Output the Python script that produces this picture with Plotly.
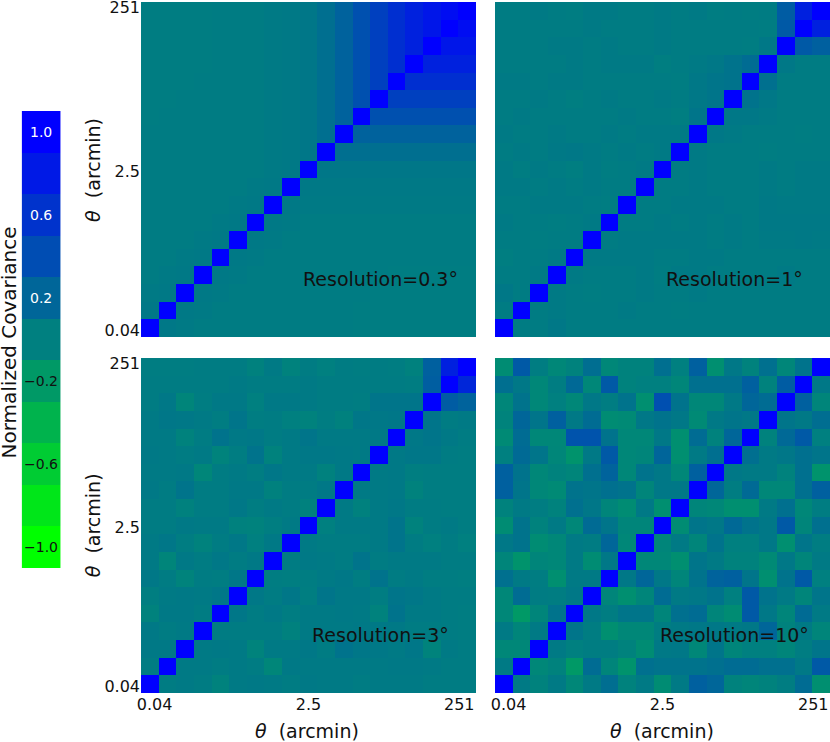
import plotly.graph_objects as go

# labels
resolutions = ["0.3", "1", "3", "10"]
theta_ticks = ["0.04", "2.5", "251"]

# colour bar bands and labels
cbar_levels = [-1.0, -0.8, -0.6, -0.4, -0.2, 0.0, 0.2, 0.4, 0.6, 0.8, 1.0]
cbar_tickvals = [1.0, 0.6, 0.2, -0.2, -0.6, -1.0]
cbar_ticktext = ["1.0", "0.6", "0.2", "\u22120.2", "\u22120.6", "\u22121.0"]

# normalized covariance matrices, row 0 = smallest theta (bottom)
cov_03 = [
    [1.00, .06, .04, .03, .03, .03, .03, .03, .03, .03, .03, .03, .02, .02, .02, .02, .02, .02, .02],
    [.06, 1.00, .05, .04, .03, .03, .03, .03, .03, .03, .03, .03, .02, .02, .02, .02, .02, .02, .02],
    [.04, .05, 1.00, .05, .04, .03, .03, .03, .03, .03, .03, .03, .03, .02, .02, .02, .02, .02, .02],
    [.03, .04, .05, 1.00, .05, .04, .03, .03, .03, .03, .03, .03, .03, .03, .02, .02, .02, .02, .02],
    [.03, .03, .04, .05, 1.00, .05, .04, .03, .03, .03, .03, .03, .03, .03, .03, .03, .03, .03, .03],
    [.03, .03, .03, .04, .05, 1.00, .05, .04, .03, .03, .03, .03, .03, .03, .03, .03, .03, .03, .03],
    [.03, .03, .03, .03, .04, .05, 1.00, .05, .04, .03, .03, .03, .03, .03, .03, .03, .03, .03, .03],
    [.03, .03, .03, .03, .03, .04, .05, 1.00, .05, .04, .04, .04, .04, .04, .04, .04, .04, .04, .04],
    [.03, .03, .03, .03, .03, .03, .04, .05, 1.00, .05, .05, .05, .05, .05, .05, .05, .05, .05, .05],
    [.03, .03, .03, .03, .03, .03, .03, .04, .05, 1.00, .07, .07, .07, .07, .07, .07, .07, .07, .07],
    [.03, .03, .03, .03, .03, .03, .03, .04, .05, .07, 1.00, .13, .13, .13, .13, .13, .13, .13, .13],
    [.03, .03, .03, .03, .03, .03, .03, .04, .05, .07, .13, 1.00, .23, .23, .23, .23, .23, .23, .23],
    [.02, .03, .03, .03, .03, .03, .03, .04, .05, .07, .13, .23, 1.00, .37, .37, .37, .37, .37, .37],
    [.02, .02, .03, .03, .03, .03, .03, .04, .05, .07, .13, .23, .37, 1.00, .50, .50, .50, .50, .50],
    [.02, .02, .02, .03, .03, .03, .03, .04, .05, .07, .13, .23, .37, .50, 1.00, .63, .63, .63, .63],
    [.02, .02, .02, .02, .03, .03, .03, .04, .05, .07, .13, .23, .37, .50, .63, 1.00, .74, .74, .74],
    [.02, .02, .02, .02, .03, .03, .03, .04, .05, .07, .13, .23, .37, .50, .63, .74, 1.00, .83, .83],
    [.02, .02, .02, .02, .03, .03, .03, .04, .05, .07, .13, .23, .37, .50, .63, .74, .83, 1.00, .90],
    [.02, .02, .02, .02, .03, .03, .03, .04, .05, .07, .13, .23, .37, .50, .63, .74, .83, .90, 1.00],
]

cov_1 = [
    [1.00, .03, .03, .06, .03, .03, .03, .03, .03, .03, .03, .03, .03, .03, .03, .03, .03, .03, .03],
    [.03, 1.00, .03, .04, .03, .03, .03, .04, .03, .03, .02, .03, .03, .03, .03, .03, .03, .03, .03],
    [.06, .03, 1.00, .04, .03, .02, .03, .03, .04, .03, .03, .04, .03, .03, .03, .03, .03, .03, .03],
    [.03, .03, .04, 1.00, .04, .03, .03, .03, .04, .02, .04, .04, .03, .03, .03, .03, .04, .03, .03],
    [.01, .03, .03, .04, 1.00, .04, .04, .04, .04, .03, .03, .04, .04, .03, .03, .03, .03, .03, .03],
    [.03, .03, .02, .03, .03, 1.00, .03, .04, .04, .04, .04, .04, .03, .04, .03, .04, .04, .05, .04],
    [.04, .03, .03, .02, .03, .04, 1.00, .03, .03, .04, .03, .04, .03, .04, .03, .05, .05, .05, .05],
    [.03, .03, .04, .04, .04, .03, .02, 1.00, .03, .03, .04, .04, .04, .03, .03, .05, .04, .04, .04],
    [.04, .04, .03, .04, .03, .04, .03, .03, 1.00, .03, .03, .04, .03, .03, .03, .04, .03, .04, .04],
    [.04, .02, .04, .03, .01, .04, .02, .03, .04, 1.00, .03, .04, .03, .03, .03, .04, .03, .04, .04],
    [.03, .04, .03, .05, .06, .04, .03, .04, .03, .04, 1.00, .04, .03, .03, .03, .02, .03, .03, .03],
    [.04, .03, .03, .04, .03, .03, .04, .03, .04, .04, .04, 1.00, .06, .04, .03, .03, .03, .02, .03],
    [.03, .04, .03, .03, .03, .03, .03, .04, .03, .03, .01, .08, 1.00, .06, .06, .04, .03, .03, .03],
    [.03, .03, .04, .03, .01, .03, .04, .03, .03, .04, .03, .06, .08, 1.00, .10, .06, .03, .03, .03],
    [.04, .04, .03, .04, .04, .03, .03, .03, .03, .03, .02, .06, .08, .10, 1.00, .12, .03, .03, .03],
    [.03, .03, .03, .03, .04, .03, .04, .04, .04, .01, .03, .04, .06, .10, .15, 1.00, .06, .03, .03],
    [.03, .03, .03, .04, .04, .03, .04, .03, .03, .04, .03, .03, .03, .03, .02, .06, 1.00, .30, .25],
    [.03, .03, .03, .03, .03, .04, .03, .03, .03, .04, .03, .03, .03, .03, .03, .02, .30, 1.00, .75],
    [.03, .03, .04, .03, .02, .04, .04, .03, .03, .04, .03, .04, .02, .03, .02, .03, .28, .75, 1.00],
]

cov_3 = [
    [1.00, .03, .04, .03, -.02, .04, .05, .04, .03, .05, .04, .04, .03, .04, .04, .04, .03, .03, .03],
    [.03, 1.00, .04, .04, .03, .04, .03, -.05, .05, .04, .04, .04, .04, .04, .05, .05, .04, .03, .03],
    [.05, .05, 1.00, .04, .05, .04, -.03, .04, .04, .06, .03, .10, .07, .06, .04, .07, -.03, .04, .03],
    [.05, .03, .04, 1.00, .03, .03, .03, .03, -.01, .04, .04, .04, .05, .05, .05, .03, .03, .03, .02],
    [-.02, .05, .05, .03, 1.00, .07, .03, .05, .02, .04, .04, .05, .04, -.02, .10, .04, .04, .03, .02],
    [.01, .04, .05, .04, .07, 1.00, .06, .03, .07, .01, .08, .05, .05, .02, .08, .07, .04, .03, .03],
    [.06, .03, -.03, .03, .02, .07, 1.00, .02, .01, .02, .04, .06, .02, .10, .03, .04, .02, .02, .01],
    [.04, -.04, .05, .03, .06, .03, .05, 1.00, .03, .05, .04, .03, .09, .03, .04, .04, .04, .03, .03],
    [.04, .07, .02, -.02, .03, .06, .00, .05, 1.00, .04, .03, .03, .03, .04, .09, .03, .00, .03, .00],
    [.03, .03, .05, .04, .04, -.01, -.02, .01, .04, 1.00, .00, .04, .04, .04, .09, -.02, .03, .04, .02],
    [.03, .03, -.01, .03, .03, .06, .02, .04, .03, -.01, 1.00, .04, -.01, .04, .06, .03, .03, .02, .02],
    [.05, .03, .09, .03, .03, .05, .05, -.01, .03, .03, .06, 1.00, .04, .04, .05, -.02, .02, .02, .02],
    [.04, .04, .05, -.05, .03, .04, .02, .07, .04, .04, -.01, .05, 1.00, .04, .05, .01, .02, .02, .02],
    [.05, .04, .03, .04, -.03, .02, .10, -.02, .04, .06, .06, .05, .04, 1.00, .05, .07, .07, .03, .02],
    [.04, .04, -.02, .03, .10, .05, .06, .03, .04, .08, .04, .04, .04, .05, 1.00, .06, .08, .05, .03],
    [.04, .07, .06, .04, .02, .08, .02, .03, .00, -.02, .02, -.01, .07, .06, .07, 1.00, .08, .03, .04],
    [.03, .06, -.04, .02, .05, .05, .00, .05, .05, .04, .03, .03, .02, .08, .08, .08, 1.00, .28, .22],
    [.03, .03, .03, .03, .03, .04, .03, .03, .03, .04, .03, .03, .03, .03, .03, .02, .26, 1.00, .70],
    [.02, .02, .02, .03, .03, .03, -.01, .04, -.02, .03, .00, .03, .02, .03, .02, -.01, .25, .75, 1.00],
]

cov_10 = [
    [1.00, .04, -.02, .04, -.06, .04, .14, -.02, .04, -.10, .04, .25, .20, -.02, -.04, -.02, .02, .15, -.12],
    [.04, 1.00, -.06, -.02, -.20, .15, -.04, -.15, .12, .10, .10, .10, .12, .15, .15, .12, .12, .05, .30],
    [-.06, -.06, 1.00, .04, .00, .02, .02, -.02, -.10, .05, .06, -.06, .08, -.04, .00, .00, -.04, .02, .08],
    [.04, -.04, .04, 1.00, .08, .02, -.12, -.06, -.06, .02, .04, .06, .06, .04, .06, .20, -.02, .04, -.04],
    [-.06, -.20, -.04, .10, 1.00, .06, .02, .08, .08, -.04, .12, .15, -.04, -.10, .30, .06, -.04, .16, .04],
    [-.06, .15, .03, .02, .06, 1.00, -.04, -.12, -.04, .15, .04, .06, .10, .00, .30, .10, .04, -.04, .08],
    [.12, .04, .02, -.12, .04, .04, 1.00, .06, .20, .06, -.04, .10, .22, .25, .08, -.12, .10, .30, .00],
    [-.04, -.15, -.04, -.06, .04, -.10, .06, 1.00, -.06, -.06, -.12, .08, .04, -.02, -.02, -.08, .06, -.04, .04],
    [.06, .10, -.10, -.06, .04, .03, .20, -.06, 1.00, -.04, .04, -.04, .10, .00, .00, .06, -.12, .08, .02],
    [-.10, .10, -.02, .04, -.06, .16, .08, -.04, -.04, 1.00, -.10, .08, .06, .18, .10, .06, .30, -.04, .12],
    [-.02, .04, .02, -.02, .12, .07, -.04, -.10, .05, -.12, 1.00, -.04, -.06, -.12, -.12, .04, .12, -.06, .02],
    [.25, .08, -.06, -.08, .10, .08, .12, .10, -.04, .06, .06, 1.00, .20, .02, .17, -.06, -.06, .12, .25],
    [.25, .10, -.06, -.02, -.04, .12, .22, -.06, .10, .06, -.06, .25, 1.00, .06, .04, .04, -.02, .12, -.15],
    [.00, .17, .08, -.05, -.15, .05, .30, -.06, -.04, .21, -.12, .04, .13, 1.00, .13, .04, .07, .12, .08],
    [-.08, .15, -.06, -.06, .35, .35, .10, -.06, -.06, .06, -.12, .15, -.02, .20, 1.00, -.02, .18, .30, .00],
    [-.03, .20, .08, .25, .05, .15, -.10, -.08, .06, .10, .06, -.08, .05, .08, .06, 1.00, .08, .05, .14],
    [-.05, .10, -.06, .00, -.06, .06, .02, .10, -.12, .38, .10, -.06, -.06, .05, .20, .15, 1.00, .25, -.04],
    [.13, .06, -.06, .02, .18, -.06, .30, -.02, .00, .00, -.05, .12, .12, .12, .25, -.02, .28, 1.00, .06],
    [-.10, .30, .02, -.06, -.02, .14, -.06, -.02, -.02, .13, .00, .25, -.12, .06, -.02, .12, -.05, .10, 1.00],
]

green_blue = [[0.0, "rgb(0,255,0)"], [1.0, "rgb(0,0,255)"]]
FONT = "DejaVu Sans ExtraLight, DejaVu Sans"

# panel layout: (matrix, x domain, y domain, show x labels, show y labels)
panels = [
    (cov_03, [0.1699, 0.5735], [0.5458, 0.9973], False, True),
    (cov_1, [0.5964, 1.0], [0.5458, 0.9973], False, False),
    (cov_3, [0.1699, 0.5735], [0.0660, 0.5175], True, True),
    (cov_10, [0.5964, 1.0], [0.0660, 0.5175], True, False),
]

fig = go.Figure()
layout = {}
annotations = []

for k, (mat, xd, yd, showx, showy) in enumerate(panels, start=1):
    sfx = "" if k == 1 else str(k)
    fig.add_trace(go.Heatmap(
        z=mat, colorscale=green_blue, zmin=-1, zmax=1, showscale=False,
        xaxis="x" + sfx, yaxis="y" + sfx, hoverinfo="z",
    ))
    layout["xaxis" + sfx] = dict(
        domain=xd, anchor="y" + sfx, range=[-0.5, 18.5], showgrid=False,
        zeroline=False, ticks="", showticklabels=showx, automargin=False,
        ticklabeloverflow="allow",
        tickmode="array", tickvals=[0.27, 9.0, 17.55], ticktext=theta_ticks,
        tickfont=dict(family=FONT, size=16, color="#111"),
    )
    layout["yaxis" + sfx] = dict(
        domain=yd, anchor="x" + sfx, range=[-0.5, 18.5], showgrid=False,
        zeroline=False, ticks="", showticklabels=showy, automargin=False,
        ticklabeloverflow="allow",
        tickmode="array", tickvals=[-0.15, 8.9, 18.2], ticktext=theta_ticks,
        tickfont=dict(family=FONT, size=16, color="#111"),
    )
    annotations.append(dict(
        text="Resolution=" + resolutions[k - 1] + "\u00b0", xref="x" + sfx, yref="y" + sfx,
        x=13.1, y=2.8, showarrow=False, xanchor="center", yanchor="middle",
        font=dict(family=FONT, size=19, color="#111"),
    ))

# discrete colour bar drawn as its own heatmap
fig.add_trace(go.Heatmap(
    z=[[v] for v in cbar_levels], x=[0], y=cbar_levels, colorscale=green_blue,
    zmin=-1, zmax=1, showscale=False, xaxis="x5", yaxis="y5", hoverinfo="z",
))
layout["xaxis5"] = dict(domain=[0.0261, 0.0731], anchor="y5", range=[-0.5, 0.5],
                        visible=False, automargin=False)
layout["yaxis5"] = dict(domain=[0.2345, 0.8504], anchor="x5", range=[-1.1, 1.1],
                        visible=False, automargin=False)
for v, t in zip(cbar_tickvals, cbar_ticktext):
    annotations.append(dict(
        text=t, xref="x5", yref="y5", x=0, y=v, showarrow=False,
        font=dict(family=FONT, size=14, color="white" if v > 0 else "#111"),
    ))

title_font = dict(family=FONT, size=19, color="#111")
xtitle = "<i>\u03b8</i>\u00a0\u00a0(arcmin)"
for xc in [0.3695, 0.797]:
    annotations.append(dict(text=xtitle, xref="paper", yref="paper", x=xc, y=0.0148,
                            showarrow=False, xanchor="center", yanchor="middle",
                            font=title_font))
for yc in [0.771, 0.292]:
    annotations.append(dict(text=xtitle, xref="paper", yref="paper", x=0.112, y=yc,
                            textangle=-90, showarrow=False, xanchor="center",
                            yanchor="middle", font=title_font))
annotations.append(dict(text="Normalized Covariance", xref="paper", yref="paper",
                        x=0.0114, y=0.539, textangle=-90, showarrow=False,
                        xanchor="center", yanchor="middle",
                        font=dict(family=FONT, size=20, color="#111")))

fig.update_layout(
    width=830, height=742, margin=dict(l=0, r=0, t=0, b=0),
    paper_bgcolor="white", plot_bgcolor="white", showlegend=False,
    annotations=annotations, **layout,
)

# drop the browser's default page margin so the figure sits at the window origin
fig.write_html("out.html", config={"displayModeBar": False},
               post_script="document.body.style.margin='0';")
